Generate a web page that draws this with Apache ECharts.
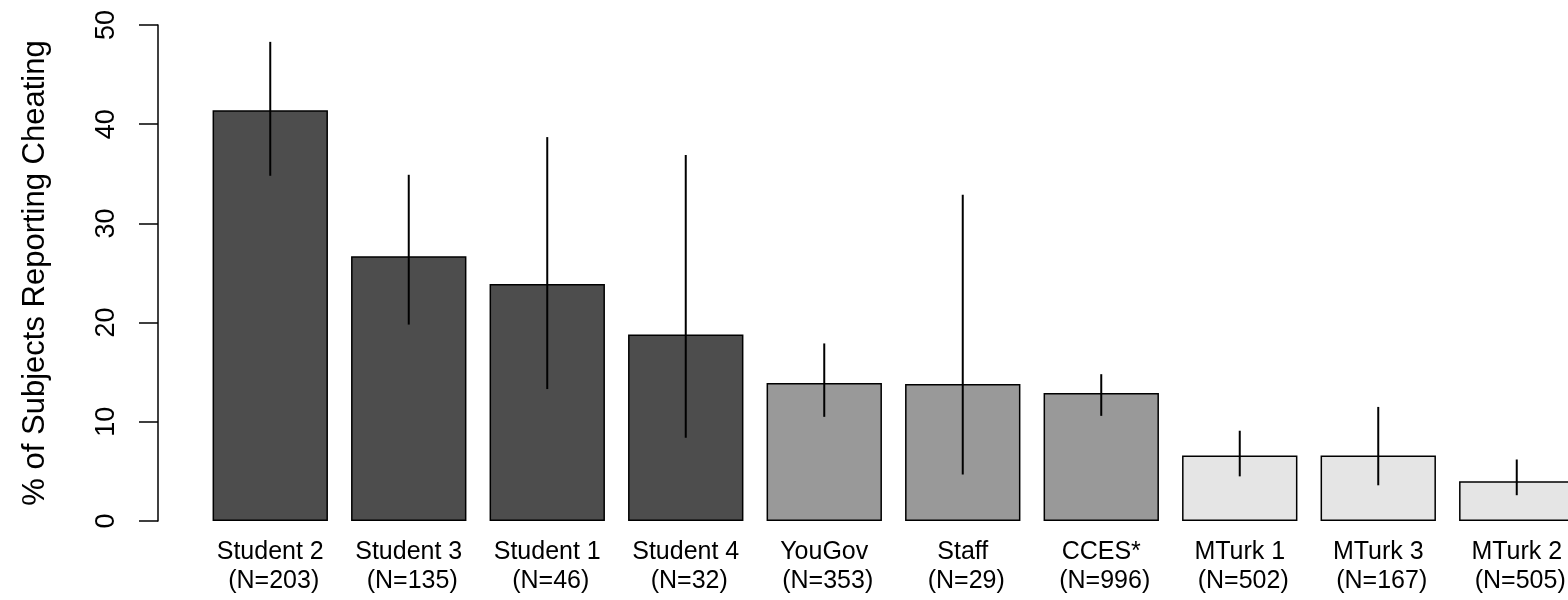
<!DOCTYPE html>
<html>
<head>
<meta charset="utf-8">
<script src="https://cdn.jsdelivr.net/npm/echarts@6/dist/echarts.min.js"></script>
<style>
  html, body { margin: 0; padding: 0; background: #fff; }
  #chart { width: 1568px; height: 600px; }
</style>
</head>
<body>
<div id="chart"></div>
<script>
const groups = ['Student 2', 'Student 3', 'Student 1', 'Student 4', 'YouGov', 'Staff', 'CCES*', 'MTurk 1', 'MTurk 3', 'MTurk 2'];
const sampleSizes = [203, 135, 46, 32, 353, 29, 996, 502, 167, 505];
const pctCheating = [41.4, 26.7, 23.9, 18.8, 13.9, 13.8, 12.9, 6.6, 6.6, 4.0];
const ciLower = [34.8, 19.8, 13.3, 8.4, 10.5, 4.7, 10.6, 4.5, 3.6, 2.6];
const ciUpper = [48.3, 34.9, 38.7, 36.9, 17.9, 32.9, 14.8, 9.1, 11.5, 6.2];
const sampleType = ['student', 'student', 'student', 'student', 'online', 'online', 'online', 'mturk', 'mturk', 'mturk'];
const yTicks = [0, 10, 20, 30, 40, 50];

const fills = { student: '#4d4d4d', online: '#999999', mturk: '#e5e5e5' };
const font = "'Liberation Sans', Arial, sans-serif";

const chart = echarts.init(document.getElementById('chart'), null, { renderer: 'canvas' });

chart.setOption({
  backgroundColor: '#ffffff',
  animation: false,
  grid: { left: 201, top: 25, right: -18, height: 496, outerBoundsMode: 'none', containLabel: false },
  xAxis: {
    type: 'category',
    data: groups.map((g, i) => g + '\n (N=' + sampleSizes[i] + ')'),
    axisLine: { show: false },
    axisTick: { show: false },
    axisLabel: {
      color: '#000',
      fontFamily: font,
      fontSize: 25,
      lineHeight: 29,
      margin: 17,
      interval: 0
    }
  },
  yAxis: {
    type: 'value',
    min: yTicks[0],
    max: yTicks[yTicks.length - 1],
    interval: 10,
    offset: 43,
    splitLine: { show: false },
    axisLine: { show: true, lineStyle: { color: '#000', width: 1.5 } },
    axisTick: { show: true, length: 19, lineStyle: { color: '#000', width: 1.5 } },
    axisLabel: {
      color: '#000',
      fontFamily: font,
      fontSize: 27,
      rotate: 90,
      margin: 38
    },
    name: '% of Subjects Reporting Cheating',
    nameLocation: 'middle',
    nameRotate: 90,
    nameGap: 107,
    nameTextStyle: { color: '#000', fontFamily: font, fontSize: 31 }
  },
  series: [
    {
      type: 'bar',
      barCategoryGap: '16.7%',
      data: pctCheating.map((v, i) => ({
        value: v,
        itemStyle: { color: fills[sampleType[i]], borderColor: '#000', borderWidth: 1.5 }
      })),
      z: 2
    },
    {
      type: 'custom',
      z: 3,
      data: ciLower.map((lo, i) => [i, lo, ciUpper[i]]),
      renderItem: function (params, api) {
        const p1 = api.coord([api.value(0), api.value(1)]);
        const p2 = api.coord([api.value(0), api.value(2)]);
        return {
          type: 'line',
          shape: { x1: p1[0], y1: p1[1], x2: p2[0], y2: p2[1] },
          style: { stroke: '#000', lineWidth: 2 }
        };
      }
    }
  ]
});
</script>
</body>
</html>
